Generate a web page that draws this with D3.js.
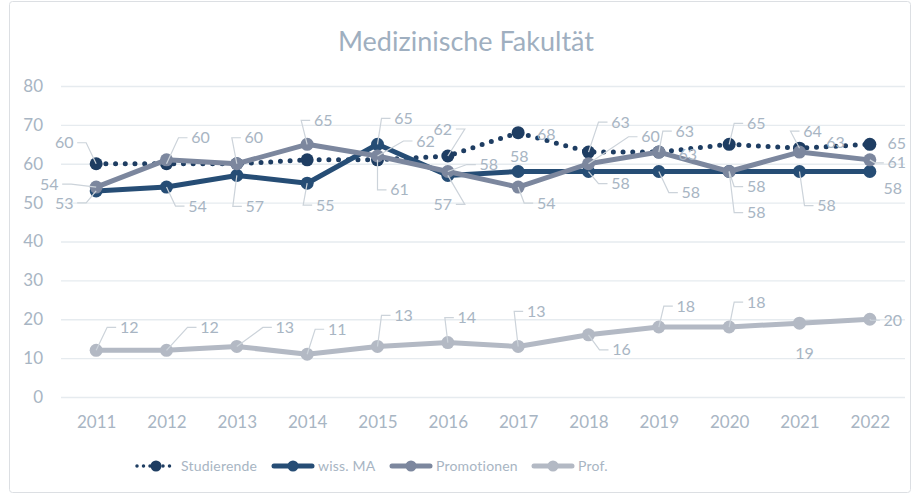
<!DOCTYPE html>
<html>
<head>
<meta charset="utf-8">
<script src="https://cdn.jsdelivr.net/npm/d3@7"></script>
<style>
  body { margin: 0; background: #fff; }
  svg { font-family: Lato, "Open Sans", sans-serif; }
</style>
</head>
<body>
<div class="content"></div>
<script>
const years = ["2011","2012","2013","2014","2015","2016","2017","2018","2019","2020","2021","2022"];
const studierende = [60, 60, 60, 61, 61, 62, 68, 63, 63, 65, 64, 65];
const wissMA      = [53, 54, 57, 55, 65, 57, 58, 58, 58, 58, 58, 58];
const promotionen = [54, 61, 60, 65, 62, 58, 54, 60, 63, 58, 63, 61];
const prof        = [12, 12, 13, 11, 13, 14, 13, 16, 18, 18, 19, 20];
const yTicks = [0, 10, 20, 30, 40, 50, 60, 70, 80];

const series = [
  { name: "Studierende", values: studierende, color: "#1e3d62", dotted: true },
  { name: "wiss. MA",    values: wissMA,      color: "#264d75" },
  { name: "Promotionen", values: promotionen, color: "#7c879e" },
  { name: "Prof.",       values: prof,        color: "#b3b9c4" }
];

// label layout: [series index, year index, dx, dy, leader?]
const labelLayout = [
  [0, 0, -32, -21, true], [0, 1, 34, -26, true], [0, 4, 22, 30, true], [0, 5, -5, -27, true],
  [0, 6, 28, 2, false], [0, 7, 32, -30, true], [0, 8, 29, 2, false], [0, 9, 27, -21, true],
  [0, 10, 13, -17, true], [0, 11, 27, -1, false],
  [1, 0, -32, 12, true], [1, 1, 31, 19, true], [1, 2, 18, 31, true], [1, 3, 18, 22, true],
  [1, 4, 26, -26, true], [1, 5, -5, 29, true], [1, 6, 1, -15, false], [1, 7, 32, 12, true],
  [1, 8, 32, 21, true], [1, 9, 27, 41, true], [1, 10, 27, 34, true], [1, 11, 23, 17, false],
  [2, 0, -47, -3, true], [2, 2, 17, -26, true], [2, 3, 16, -24, true], [2, 4, 48, -15, true],
  [2, 5, 41, -7, true], [2, 6, 28, 16, true], [2, 7, 62, -27, true], [2, 8, 26, -21, true],
  [2, 9, 27, 15, true], [2, 10, 36, -10, false], [2, 11, 27, 3, true],
  [3, 0, 33, -23, true], [3, 1, 43, -23, true], [3, 2, 48, -19, true], [3, 3, 30, -25, true],
  [3, 4, 26, -31, true], [3, 5, 19, -25, true], [3, 6, 18, -35, true], [3, 7, 33, 15, true],
  [3, 8, 27, -21, true], [3, 9, 27, -25, true], [3, 10, 5, 30, false], [3, 11, 23, 1, true]
];

const W = 920, H = 496;
const margin = { top: 86, right: 15, bottom: 99, left: 61 };

const svg = d3.select(".content").append("svg")
  .attr("width", W).attr("height", H);

svg.append("rect")
  .attr("x", 9.5).attr("y", 1.5).attr("width", 901).attr("height", 491)
  .attr("rx", 3)
  .attr("fill", "#fff").attr("stroke", "#dcdfe3");

const x = d3.scalePoint()
  .domain(years)
  .range([margin.left, W - margin.right])
  .padding(0.5);

const y = d3.scaleLinear()
  .domain([0, 80])
  .range([H - margin.bottom, margin.top]);

const textColor = "#a8b5c3";

svg.append("text")
  .attr("x", 466).attr("y", 51)
  .attr("text-anchor", "middle")
  .attr("font-size", 27)
  .attr("fill", "#9fafc0")
  .text("Medizinische Fakultät");

// grid + y axis
const yAxis = svg.append("g")
  .attr("transform", `translate(${margin.left},0)`)
  .call(d3.axisLeft(y).tickValues(yTicks).tickSize(-(W - margin.left - margin.right)).tickPadding(18))
  .call(g => g.select(".domain").remove());
yAxis.selectAll(".tick line").attr("stroke", "#e6ebef").attr("stroke-width", 1.3);
yAxis.selectAll(".tick text").attr("fill", textColor).attr("font-size", 17)
  .attr("font-family", "Lato, sans-serif");

const xAxis = svg.append("g")
  .attr("transform", `translate(0,${H - margin.bottom})`)
  .call(d3.axisBottom(x).tickSize(0).tickPadding(19))
  .call(g => g.select(".domain").remove());
xAxis.selectAll(".tick text").attr("fill", textColor).attr("font-size", 17)
  .attr("font-family", "Lato, sans-serif");

const line = d3.line()
  .x((d, i) => x(years[i]))
  .y(d => y(d));

series.forEach(s => {
  svg.append("path")
    .datum(s.values)
    .attr("fill", "none")
    .attr("stroke", s.color)
    .attr("stroke-width", 5)
    .attr("stroke-linejoin", "round")
    .attr("stroke-linecap", "round")
    .attr("stroke-dasharray", s.dotted ? "0 9.7" : null)
    .attr("d", line);

  svg.selectAll(null)
    .data(s.values)
    .enter().append("circle")
    .attr("cx", (d, i) => x(years[i]))
    .attr("cy", d => y(d))
    .attr("r", 6.5)
    .attr("fill", s.color);
});

// data labels with leader lines
const labels = svg.append("g");
labelLayout.forEach(([si, yi, dx, dy, leader]) => {
  const s = series[si];
  const px = x(years[yi]), py = y(s.values[yi]);
  const lx = px + dx, ly = py + dy;
  if (leader) {
    const halfW = 11;
    const side = dx >= 0 ? -1 : 1;
    const ax = lx + side * (halfW + 2);
    const ex = ax + side * 9;
    labels.append("path")
      .attr("d", `M${px},${py}L${ex},${ly}L${ax},${ly}`)
      .attr("fill", "none")
      .attr("stroke", "#ccd3da")
      .attr("stroke-width", 1.2);
  }
  labels.append("text")
    .attr("x", lx).attr("y", ly)
    .attr("dy", "0.35em")
    .attr("text-anchor", "middle")
    .attr("font-size", 16)
    .attr("fill", textColor)
    .text(s.values[yi]);
});

// legend
const legendX = [135, 272, 390, 532];
const legend = svg.append("g").attr("transform", "translate(0,466)");
series.forEach((s, i) => {
  const g = legend.append("g").attr("transform", `translate(${legendX[i]},0)`);
  g.append("line")
    .attr("x1", 2).attr("x2", 40).attr("y1", 0).attr("y2", 0)
    .attr("stroke", s.color)
    .attr("stroke-width", s.dotted ? 3.5 : 5)
    .attr("stroke-linecap", "round")
    .attr("stroke-dasharray", s.dotted ? "0 6.5" : null);
  g.append("circle").attr("cx", 21).attr("cy", 0).attr("r", 5.5).attr("fill", s.color);
  g.append("text")
    .attr("x", 46).attr("y", 0).attr("dy", "0.35em")
    .attr("font-size", 14)
    .attr("letter-spacing", 0.2)
    .attr("fill", textColor)
    .text(s.name);
});
</script>
</body>
</html>
